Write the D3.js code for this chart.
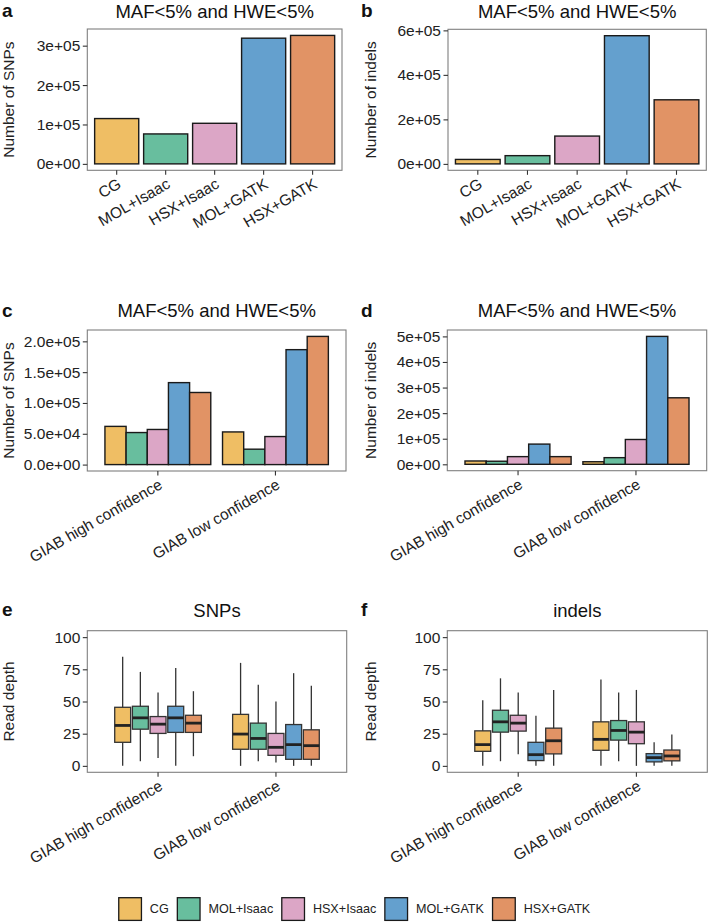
<!DOCTYPE html>
<html>
<head>
<meta charset="utf-8">
<script src="https://cdn.jsdelivr.net/npm/d3@7"></script>
<style>
  html, body { margin: 0; padding: 0; background: #fff; }
  svg { display: block; font-family: "Liberation Sans", Arial, Helvetica, sans-serif; }
</style>
</head>
<body>
<svg id="chart" width="709" height="922"></svg>
<script>
// ---------- data ----------
const methods = ["CG", "MOL+Isaac", "HSX+Isaac", "MOL+GATK", "HSX+GATK"];
const methodColors = ["#EFBE64", "#68BE9E", "#DCA6C6", "#64A0CE", "#E19365"];
const regions = ["GIAB high confidence", "GIAB low confidence"];

const snpCounts = [115000, 76000, 103000, 319000, 326000];
const indelCounts = [20000, 37000, 125000, 576000, 288000];

const snpCountsHigh = [62000, 52000, 57000, 133000, 117000];
const snpCountsLow = [53000, 25000, 45500, 186500, 208000];
const indelCountsHigh = [13000, 12000, 30000, 79000, 30000];
const indelCountsLow = [10000, 26000, 97000, 500000, 260000];

// [lower whisker, Q1, median, Q3, upper whisker]
const snpDepthHigh = [[0, 18.3, 31.4, 45.5, 84.8], [3.6, 28.5, 37.3, 46.3, 73], [6.2, 25.2, 32.4, 38.3, 57], [0, 26, 37.3, 46.3, 76], [7.5, 26, 33.2, 39.3, 58]];
const snpDepthLow = [[0, 12.9, 24.7, 40, 80], [3.6, 12.9, 21.3, 33.2, 63], [2.6, 8.2, 14.4, 25.2, 50], [0, 5.1, 16.5, 32.1, 72], [0, 5.1, 15.7, 28, 62.2]];
const indelDepthHigh = [[0, 11.3, 16.5, 27.2, 50.9], [3.6, 26.2, 34.2, 43.2, 68], [9, 27, 33.2, 39.3, 57], [0, 4.1, 8.7, 18.3, 39], [0, 9.3, 19.5, 29.3, 59]];
const indelDepthLow = [[0, 12.1, 20.6, 34.2, 67], [3.6, 20, 27.5, 35.2, 57], [0, 17.2, 26.2, 34.2, 59], [0, 3.1, 6.4, 9.5, 18.3], [0, 3.9, 7.7, 12.3, 24.4]];

const ticksSnpA = [0, 100000, 200000, 300000];
const ticksIndelB = [0, 200000, 400000, 600000];
const ticksSnpC = [0, 50000, 100000, 150000, 200000];
const ticksIndelD = [0, 100000, 200000, 300000, 400000, 500000];
const ticksDepth = [0, 25, 50, 75, 100];
const depthRange = [0, 100];

// ---------- helpers ----------
const svg = d3.select("#chart");
const TEXT = "#222";
const TICKC = "#333";
const FS = 15.5;

function sci(digits) {
  return v => {
    if (v === 0) return (0).toFixed(digits) + "e+00";
    const e = Math.floor(Math.log10(Math.abs(v)) + 1e-9);
    const m = v / Math.pow(10, e);
    return m.toFixed(digits) + "e" + (e < 0 ? "-" : "+") + String(Math.abs(e)).padStart(2, "0");
  };
}

function frame(p, letter, title, ylabel, ylabelX) {
  svg.append("text").attr("x", p.letterX).attr("y", p.letterY)
    .attr("font-size", 19).attr("font-weight", "bold").attr("fill", "#111").text(letter);
  svg.append("text").attr("x", (p.l + p.r) / 2).attr("y", p.titleY)
    .attr("text-anchor", "middle").attr("font-size", 18.5).attr("fill", "#111").text(title);
  svg.append("text")
    .attr("transform", `translate(${ylabelX},${(p.t + p.b) / 2}) rotate(-90)`)
    .attr("text-anchor", "middle").attr("font-size", FS).attr("fill", TEXT).text(ylabel);
}

function yAxis(p, y, ticks, fmt) {
  const g = svg.append("g").attr("transform", `translate(${p.l},0)`)
    .call(d3.axisLeft(y).tickValues(ticks).tickFormat(fmt).tickSizeOuter(0).tickSize(4.5).tickPadding(2.5));
  g.select(".domain").remove();
  g.selectAll(".tick line").attr("stroke", TICKC).attr("stroke-width", 1.1);
  g.selectAll(".tick text").attr("font-size", FS).attr("fill", TEXT)
    .attr("font-family", "Liberation Sans, Arial, sans-serif");
}

function xAxis(p, x) {
  const g = svg.append("g").attr("transform", `translate(0,${p.b})`)
    .call(d3.axisBottom(x).tickSizeOuter(0).tickSize(4.5).tickPadding(3));
  g.select(".domain").remove();
  g.selectAll(".tick line").attr("stroke", TICKC).attr("stroke-width", 1.1);
  g.selectAll(".tick text").attr("font-size", FS).attr("fill", TEXT)
    .attr("font-family", "Liberation Sans, Arial, sans-serif")
    .attr("text-anchor", "end")
    .attr("dy", "0.72em")
    .attr("transform", "translate(0,7) rotate(-30)")
    .attr("y", 0).attr("x", 0);
}

function border(p) {
  svg.append("rect").attr("x", p.l).attr("y", p.t).attr("width", p.r - p.l).attr("height", p.b - p.t)
    .attr("fill", "none").attr("stroke", "#7f7f7f").attr("stroke-width", 1.1);
}

function yScaleFor(p, maxV) {
  return d3.scaleLinear().domain([-0.05 * maxV, 1.05 * maxV]).range([p.b, p.t]);
}

// ---------- simple bar panels ----------
function simpleBars(p, values, ticks, fmt, letter, ylabel, ylabelX) {
  const x = d3.scaleBand().domain(methods).range([p.l, p.r]).paddingInner(0.1).paddingOuter(0.15);
  const y = yScaleFor(p, d3.max(values));
  svg.append("g").selectAll("rect").data(methods).join("rect")
    .attr("x", d => x(d)).attr("width", x.bandwidth())
    .attr("y", (d, i) => y(values[i])).attr("height", (d, i) => y(0) - y(values[i]))
    .attr("fill", (d, i) => methodColors[i]).attr("stroke", "#1a1a1a").attr("stroke-width", 1.4);
  border(p);
  yAxis(p, y, ticks, fmt);
  xAxis(p, x);
  frame(p, letter, "MAF<5% and HWE<5%", ylabel, ylabelX);
}

// ---------- grouped bar panels ----------
function groupedBars(p, series, ticks, fmt, letter, ylabel, ylabelX) {
  const x = d3.scaleBand().domain(regions).range([p.l, p.r]).paddingInner(0.1).paddingOuter(0.15);
  const xi = d3.scaleBand().domain(methods).range([0, x.bandwidth()]);
  const y = yScaleFor(p, d3.max(series.flat()));
  regions.forEach((r, gi) => {
    svg.append("g").selectAll("rect").data(methods).join("rect")
      .attr("x", d => x(r) + xi(d)).attr("width", xi.bandwidth())
      .attr("y", (d, i) => y(series[gi][i])).attr("height", (d, i) => y(0) - y(series[gi][i]))
      .attr("fill", (d, i) => methodColors[i]).attr("stroke", "#1a1a1a").attr("stroke-width", 1.4);
  });
  border(p);
  yAxis(p, y, ticks, fmt);
  xAxis(p, x);
  frame(p, letter, "MAF<5% and HWE<5%", ylabel, ylabelX);
}

// ---------- box panels ----------
function boxes(p, series, title, letter, ylabelX) {
  const x = d3.scaleBand().domain(regions).range([p.l, p.r]).paddingInner(0.1).paddingOuter(0.15);
  const dodge = x.step() * 0.75;
  const xi = d3.scaleBand().domain(methods).range([-dodge / 2, dodge / 2]);
  const bw = xi.bandwidth() * 0.9;
  const span = depthRange[1] - depthRange[0];
  const y = d3.scaleLinear().domain([depthRange[0] - 0.05 * span, depthRange[1] + 0.05 * span]).range([p.b, p.t]);
  regions.forEach((r, gi) => {
    const cx = x(r) + x.bandwidth() / 2;
    methods.forEach((m, i) => {
      const s = series[gi][i];
      const c = cx + xi(m) + xi.bandwidth() / 2;
      const g = svg.append("g");
      g.append("line").attr("x1", c).attr("x2", c).attr("y1", y(s[0])).attr("y2", y(s[4]))
        .attr("stroke", "#333").attr("stroke-width", 1.3);
      g.append("rect").attr("x", c - bw / 2).attr("width", bw)
        .attr("y", y(s[3])).attr("height", y(s[1]) - y(s[3]))
        .attr("fill", methodColors[i]).attr("stroke", "#333").attr("stroke-width", 1.3);
      g.append("line").attr("x1", c - bw / 2).attr("x2", c + bw / 2).attr("y1", y(s[2])).attr("y2", y(s[2]))
        .attr("stroke", "#222").attr("stroke-width", 2.8);
    });
  });
  border(p);
  yAxis(p, y, ticksDepth, d3.format("d"));
  xAxis(p, x);
  frame(p, letter, title, "Read depth", ylabelX);
}

const pA = { l: 87.3, r: 342, t: 29, b: 170.3, titleY: 18.3, letterX: 2, letterY: 17 };
const pB = { l: 448, r: 706.3, t: 29.3, b: 170.3, titleY: 18.3, letterX: 361, letterY: 17 };
const pC = { l: 87.3, r: 346, t: 330, b: 471, titleY: 316.7, letterX: 2, letterY: 317 };
const pD = { l: 447.3, r: 706.7, t: 330, b: 470.7, titleY: 316.7, letterX: 361, letterY: 317 };
const pE = { l: 87.3, r: 346.7, t: 630.7, b: 772.3, titleY: 617.3, letterX: 2, letterY: 616 };
const pF = { l: 447.3, r: 707.3, t: 630.7, b: 772.3, titleY: 617.3, letterX: 361, letterY: 616 };

simpleBars(pA, snpCounts, ticksSnpA, sci(0), "a", "Number of SNPs", 14);
simpleBars(pB, indelCounts, ticksIndelB, sci(0), "b", "Number of indels", 375.5);
groupedBars(pC, [snpCountsHigh, snpCountsLow], ticksSnpC, sci(1), "c", "Number of SNPs", 14);
groupedBars(pD, [indelCountsHigh, indelCountsLow], ticksIndelD, sci(0), "d", "Number of indels", 375.5);
boxes(pE, [snpDepthHigh, snpDepthLow], "SNPs", "e", 14);
boxes(pF, [indelDepthHigh, indelDepthLow], "indels", "f", 375.5);

// ---------- legend ----------
const legend = svg.append("g");
const keySize = 22.7, keyTextGap = 8.4, itemGap = 8.6, legY = 897.7;
let cursor = 0;
methods.forEach((m, i) => {
  const it = legend.append("g");
  it.append("rect").attr("x", 0).attr("y", legY).attr("width", keySize).attr("height", keySize)
    .attr("fill", methodColors[i]).attr("stroke", "#1a1a1a").attr("stroke-width", 1.3);
  const t = it.append("text").attr("x", keySize + keyTextGap).attr("y", legY + keySize / 2)
    .attr("dy", "0.35em").attr("font-size", 12.6).attr("fill", TEXT).text(m);
  const w = t.node().getComputedTextLength();
  it.attr("transform", `translate(${cursor},0)`);
  cursor += keySize + keyTextGap + w + itemGap;
});
const totalW = cursor - itemGap;
legend.attr("transform", `translate(${(709 - totalW) / 2},0)`);
</script>
</body>
</html>
